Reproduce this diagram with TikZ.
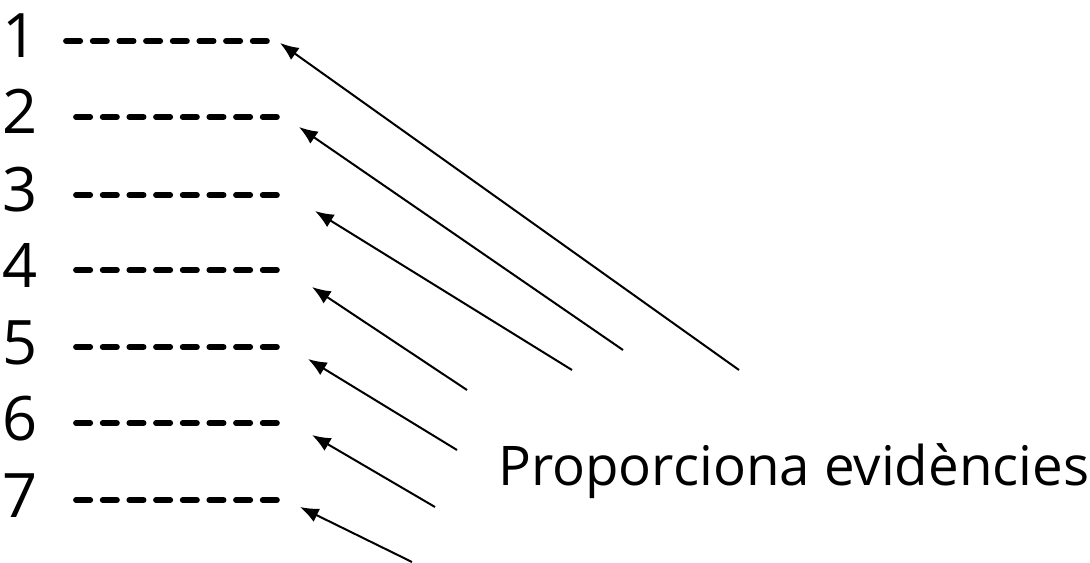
\documentclass[tikz,border=0pt]{standalone}
\usepackage{fontspec}
\setmainfont{Open Sans}
\usetikzlibrary{arrows.meta}
\tikzset{
    evarrow/.style={line width=1.5pt,-{Latex[length=14pt,width=11pt]}}
}
\begin{document}
\begin{tikzpicture}[x=0.75pt,y=-0.75pt,
    numlabel/.style={anchor=base,font=\fontsize{46}{50}\selectfont,inner sep=0pt},
    blank/.style={line width=4.3pt,line cap=round,dash pattern=on 10.7pt off 9.3pt}]
        \useasboundingbox (0,0) rectangle (1090,563);
        \foreach \n/\y in {1/41,2/117,3/195,4/270,5/347,6/423,7/500} {
            \node[numlabel] (n\n) at (20,\y+17) {\n};
        }
        \draw[blank] (66,41) -- (268,41);
        \foreach \n/\y in {2/117,3/195,4/270,5/347,6/423,7/500} {
            \draw[blank] (76,\y) -- (278,\y);
        }
        % arrow ends
        \coordinate (s1) at (739,370); \coordinate (t1) at (280,43);
        \coordinate (s2) at (623,350); \coordinate (t2) at (299,127);
        \coordinate (s3) at (572,370); \coordinate (t3) at (315,211);
        \coordinate (s4) at (467,390); \coordinate (t4) at (312,287);
        \coordinate (s5) at (457,450); \coordinate (t5) at (308,359);
        \coordinate (s6) at (435,507); \coordinate (t6) at (312,435);
        \coordinate (s7) at (412,562); \coordinate (t7) at (300,507);
        \draw[evarrow] (s1) -- (t1);
        \draw[evarrow] (s2) -- (t2);
        \draw[evarrow] (s3) -- (t3);
        \draw[evarrow] (s4) -- (t4);
        \draw[evarrow] (s5) -- (t5);
        \draw[evarrow] (s6) -- (t6);
        \draw[evarrow] (s7) -- (t7);
        \node[anchor=base west,font=\fontsize{41}{45}\selectfont,inner sep=0pt] (evid) at (498,485) {Proporciona evidències};
    \end{tikzpicture}
\end{document}
